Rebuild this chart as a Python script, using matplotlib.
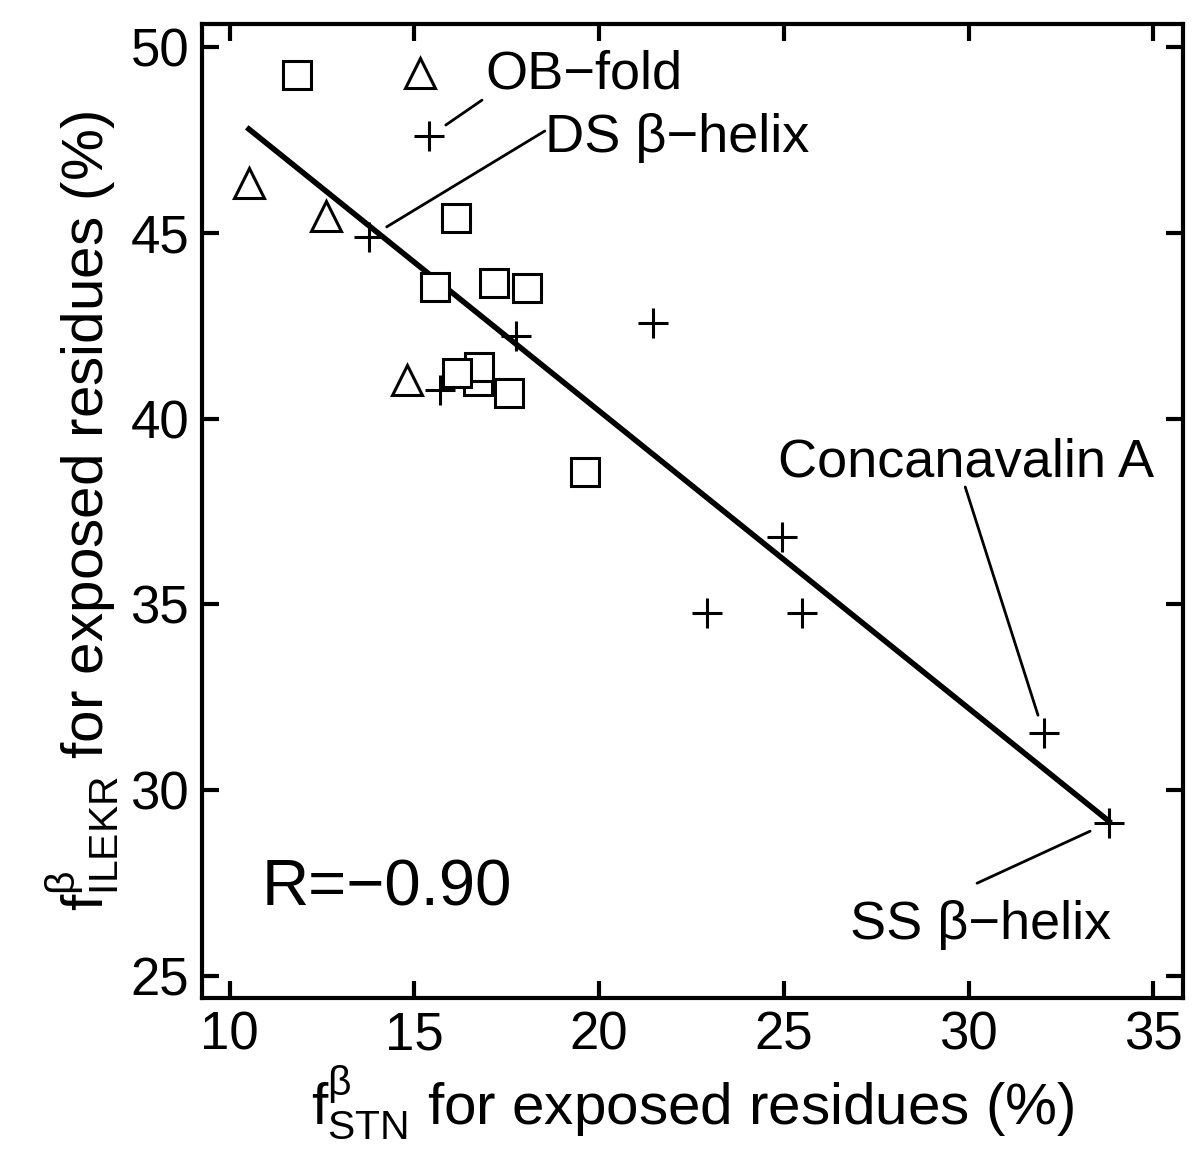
import numpy as np
import matplotlib
matplotlib.use("Agg")
import matplotlib.pyplot as plt

plt.rcParams['font.family'] = ['Liberation Sans', 'DejaVu Sans']
plt.rcParams['mathtext.fontset'] = 'custom'
plt.rcParams['mathtext.rm'] = 'Liberation Sans'
plt.rcParams['mathtext.it'] = 'Liberation Sans'

# squares
sq_x = [11.82, 16.12, 15.57, 17.16, 18.05, 16.72, 16.75, 16.15, 17.56, 19.62]
sq_y = [49.25, 45.41, 43.54, 43.66, 43.52, 41.02, 41.39, 41.22, 40.70, 38.57]
# triangles
tr_x = [15.15, 10.52, 12.60, 14.80]
tr_y = [49.30, 46.34, 45.45, 41.04]
# plus
pl_x = [15.39, 13.77, 17.75, 21.46, 15.69, 24.96, 22.93, 25.50, 32.03, 33.80]
pl_y = [47.60, 44.89, 42.22, 42.57, 40.77, 36.82, 34.77, 34.77, 31.54, 29.12]

all_x = np.array(sq_x + tr_x + pl_x)
all_y = np.array(sq_y + tr_y + pl_y)
k, b = np.polyfit(all_x, all_y, 1)
fx = np.array([all_x.min(), all_x.max()])

fig = plt.figure(figsize=(12, 11.68), dpi=100)
ax = fig.add_axes([0.168, 0.1455, 0.818, 0.834])

ax.plot(fx, k * fx + b, color='black', lw=4, zorder=2)
ax.plot(pl_x, pl_y, '+', color='black', ms=22, mew=2.2, zorder=3)
ax.plot(sq_x, sq_y, 's', mfc='white', mec='black', ms=19.5, mew=2.2, zorder=4)
ax.plot(tr_x, tr_y, '^', mfc='white', mec='black', ms=22, mew=2.2, zorder=4)

txt = dict(fontsize=39, va='center', ha='left')
lp = dict(arrowstyle='-', color='black', lw=2, shrinkA=0, shrinkB=0)
ax.text(16.91, 49.25, 'OB\u2212fold', **txt)
ax.annotate('', xy=(15.85, 47.9), xytext=(16.83, 48.57), arrowprops=lp)
ax.text(18.53, 47.55, 'DS \u03b2\u2212helix', **txt)
ax.annotate('', xy=(14.25, 45.16), xytext=(18.53, 47.74), arrowprops=lp)
ax.text(24.84, 38.83, 'Concanavalin A', **txt)
ax.annotate('', xy=(31.88, 32.02), xytext=(29.91, 38.16), arrowprops=lp)
ax.text(26.79, 26.37, 'SS \u03b2\u2212helix', **txt)
ax.annotate('', xy=(33.29, 28.9), xytext=(30.23, 27.5), arrowprops=lp)
ax.text(10.87, 27.37, 'R=\u22120.90', fontsize=47, va='center', ha='left')

ax.set_xlim(9.24, 35.81)
ax.set_ylim(24.41, 50.62)
ax.set_xticks([10, 15, 20, 25, 30, 35])
ax.set_yticks([25, 30, 35, 40, 45, 50])
ax.tick_params(direction='in', length=12, width=3, top=True, right=True,
               labelsize=38, pad=9)
for s in ax.spines.values():
    s.set_linewidth(3)

ax.set_xlabel(r'$\mathregular{f^{\beta}_{STN}}$ for exposed residues (%)', fontsize=42, labelpad=2)
ax.set_ylabel(r'$\mathregular{f^{\beta}_{ILEKR}}$ for exposed residues (%)', fontsize=42, labelpad=6)

fig.savefig('out.png', dpi=100)
